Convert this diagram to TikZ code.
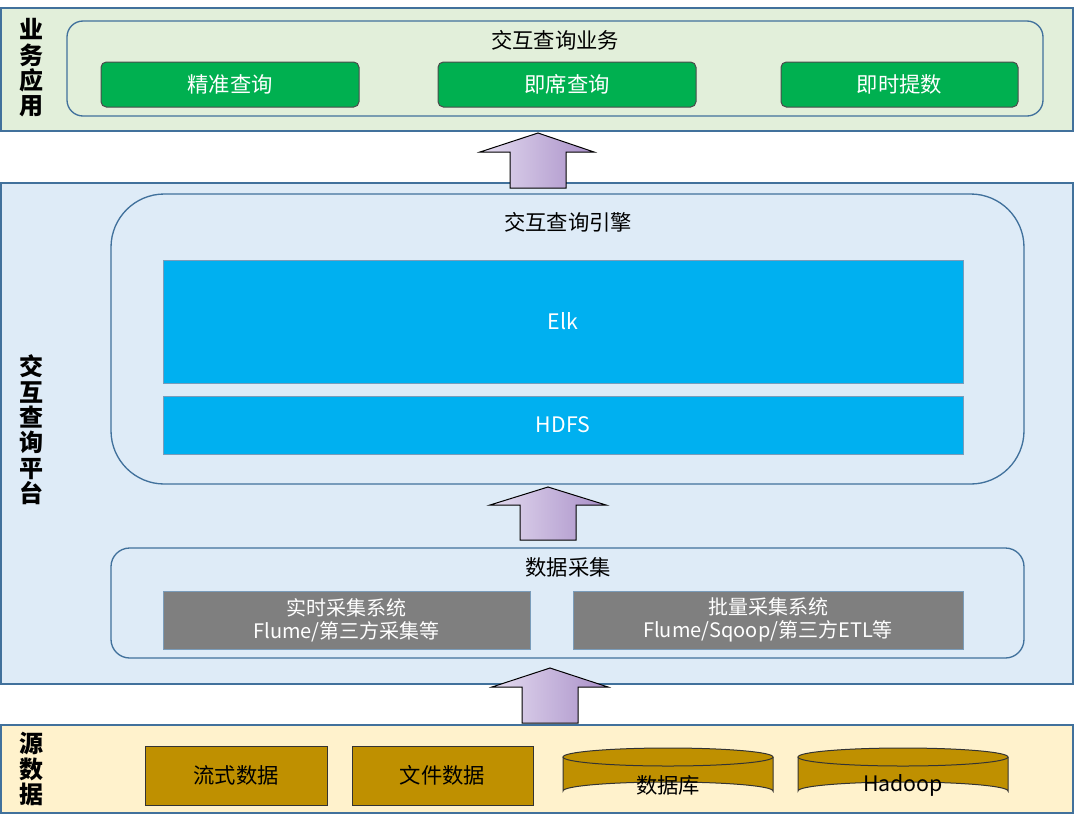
\documentclass[tikz,border=0pt]{standalone}
\usepackage{fontspec}
\setmainfont{Noto Sans CJK SC}
\definecolor{bordblue}{HTML}{41719C}
\definecolor{bandgreen}{HTML}{E2EFDA}
\definecolor{bandblue}{HTML}{DEEBF7}
\definecolor{bandyellow}{HTML}{FFF2CC}
\definecolor{boxgreen}{HTML}{00B050}
\definecolor{boxcyan}{HTML}{00B0F0}
\definecolor{boxgray}{HTML}{7F7F7F}
\definecolor{boxgold}{HTML}{BF9000}
\definecolor{arrowlight}{HTML}{E4DCF0}
\definecolor{arrowdark}{HTML}{A98FC8}
\tikzset{every picture/.style={line width=0.75pt},
  band/.style={draw=bordblue,line width=1pt},
  greenbox/.style={draw=black!70,fill=boxgreen,rounded corners=4pt,text=white},
  cyanbox/.style={draw=bordblue!70,fill=boxcyan,text=white},
  graybox/.style={draw=bordblue!70,fill=boxgray,text=white},
  goldbox/.style={draw=black!80,fill=boxgold},
  uparrow/.style={draw=black,left color=arrowlight,right color=arrowdark},
  sidelabel/.style={font=\fontsize{18}{19}\selectfont\bfseries,align=center}}

\begin{document}
\begin{tikzpicture}[x=0.75pt,y=0.75pt,yscale=-1,xscale=1,font=\fontsize{16}{18}\selectfont]
	\useasboundingbox (0,0) rectangle (1075,819);
	
	%Band: 业务应用
	\draw [band,fill=bandgreen] (1,8) rectangle (1073,131);
	\node [sidelabel] (appl) at (31,68) {业\\务\\应\\用};
	\draw [band,fill=bandgreen,rounded corners=12pt] (67,21) rectangle (1043,116);
	\node (appt) at (555,40) {交互查询业务};
	\node [greenbox,minimum width=258*0.75pt,minimum height=45*0.75pt] (q1) at (230,84.5) {精准查询};
	\node [greenbox,minimum width=258*0.75pt,minimum height=45*0.75pt] (q2) at (567,84.5) {即席查询};
	\node [greenbox,minimum width=237*0.75pt,minimum height=45*0.75pt] (q3) at (899.5,84.5) {即时提数};
	
	%Band: 交互查询平台
	\draw [band,fill=bandblue] (1,183) rectangle (1073,684);
	\node [sidelabel] (platl) at (31,430) {交\\互\\查\\询\\平\\台};
	\draw [band,fill=bandblue,rounded corners=40pt] (111,194) rectangle (1024,484);
	\node (engt) at (568,222) {交互查询引擎};
	\node [cyanbox,minimum width=800*0.75pt,minimum height=123*0.75pt] (elk) at (563,321.5) {Elk};
	\node [cyanbox,minimum width=800*0.75pt,minimum height=58*0.75pt] (hdfs) at (563,425) {HDFS};
	
	\draw [band,fill=bandblue,rounded corners=14pt] (111,548) rectangle (1024,658);
	\node (colt) at (568,567) {数据采集};
	\node [graybox,minimum width=367*0.75pt,minimum height=58*0.75pt,align=center,font=\fontsize{15}{17}\selectfont] (rt) at (346.5,620) {实时采集系统\\Flume/第三方采集等};
	\node [graybox,minimum width=390*0.75pt,minimum height=58*0.75pt,align=center,font=\fontsize{15}{17}\selectfont] (bt) at (768,620) {批量采集系统\\Flume/Sqoop/第三方ETL等};
	
	%Band: 源数据
	\draw [band,fill=bandyellow] (1,725) rectangle (1073,813);
	\node [sidelabel] (srcl) at (31,769) {源\\数\\据};
	\node [goldbox,minimum width=182*0.75pt,minimum height=59*0.75pt] (stream) at (236,775.5) {流式数据};
	\node [goldbox,minimum width=181*0.75pt,minimum height=59*0.75pt] (file) at (442.5,775.5) {文件数据};
	
	%Shape: Cylinder
	\foreach \cx/\nm/\txt in {668/db/数据库, 903/hdp/Hadoop} {
		\draw [black!80,fill=boxgold] (\cx-105,757) -- (\cx-105,791) arc [start angle=180,end angle=360,x radius=105,y radius=9] -- (\cx+105,757) ;
		\draw [black!80,fill=boxgold] (\cx,757) ellipse [x radius=105,y radius=9];
		\node (\nm) at (\cx,785) {\txt};
	}
	
	%Block Arrow: up 1
	\draw [uparrow] (510,188) -- (510,152) -- (480,152) -- (538,133) -- (594,152) -- (566,152) -- (566,188) -- cycle ;
	%Block Arrow: up 2
	\draw [uparrow] (520,540) -- (520,505) -- (490,505) -- (548,487) -- (606,505) -- (576,505) -- (576,540) -- cycle ;
	%Block Arrow: up 3
	\draw [uparrow] (522,723) -- (522,687) -- (492,687) -- (550,668) -- (608,687) -- (578,687) -- (578,723) -- cycle ;
	
\end{tikzpicture}
\end{document}
